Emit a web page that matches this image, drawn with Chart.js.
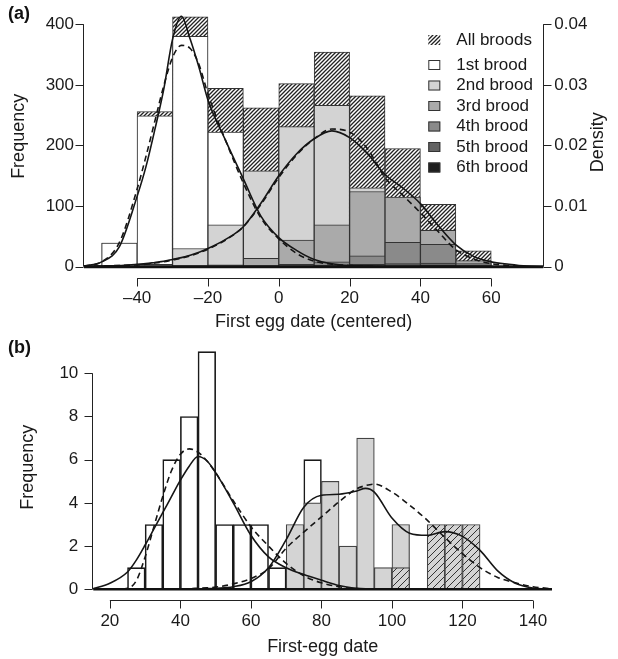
<!DOCTYPE html>
<html>
<head>
<meta charset="utf-8">
<script src="https://cdn.jsdelivr.net/npm/chart.js@4.4.1/dist/chart.umd.min.js"></script>
<style>
  html, body { margin: 0; padding: 0; background: #fff; }
  #wrap { position: relative; width: 618px; height: 659px; }
  canvas { position: absolute; left: 0; }
</style>
</head>
<body>
<div id="wrap">
  <canvas id="chartA" width="618" height="335" style="top:0"></canvas>
  <canvas id="chartB" width="618" height="324" style="top:335px"></canvas>
</div>
<script>
// ---------- panel (a): first egg date (centered), 10-day bins ----------
const binsA = [-50, -40, -30, -20, -10, 0, 10, 20, 30, 40, 50];
const allBroods = [39, 256, 412, 294, 262, 302, 354, 282, 195, 103, 26];
const brood1 = [39, 249, 380, 222, 110, 40, 10, 2, 0, 0, 0];
const brood2 = [0, 4, 30, 69, 158, 231, 266, 130, 100, 45, 8];
const brood3 = [0, 0, 2, 3, 14, 44, 69, 124, 115, 60, 10];
const brood4 = [0, 0, 0, 0, 2, 4, 8, 18, 40, 37, 5];
const brood5 = [0, 0, 0, 0, 0, 1, 2, 4, 5, 6, 2];
const brood6 = [0, 0, 0, 0, 0, 0, 0, 1, 1, 2, 1];

// density curves (right axis)
const densXA = [-55, -50, -45, -40, -37.5, -35, -32.5, -30, -27.5, -25, -22.5, -20, -15, -10, -5, 0,
                5, 10, 15, 20, 25, 30, 35, 40, 45, 50, 55, 60, 65, 70, 74];
const firstSolidA = [0.0001, 0.0008, 0.0033, 0.0116, 0.0165, 0.0226, 0.0292, 0.0375, 0.0413, 0.0375, 0.0328, 0.0275,
                     0.0208, 0.0145, 0.0083, 0.0048, 0.0027, 0.0012, 0.0005, 0.0002, 0.0001, 0, 0, 0, 0, 0, 0, 0, 0, 0, 0];
const firstDashA = [0.0001, 0.0008, 0.0040, 0.0128, 0.0182, 0.0240, 0.0298, 0.0345, 0.0365, 0.0360, 0.0333, 0.0285,
                    0.0208, 0.0138, 0.0080, 0.0046, 0.0022, 0.0009, 0.0004, 0.0002, 0.0001, 0, 0, 0, 0, 0, 0, 0, 0, 0, 0];
const laterSolidA = [0, 0.0001, 0.0002, 0.0004, 0.0005, 0.0007, 0.0009, 0.0012, 0.0015, 0.0019, 0.0024, 0.0030,
                     0.0045, 0.0066, 0.0105, 0.0150, 0.0186, 0.0211, 0.0224, 0.0213, 0.0187, 0.0152, 0.0130, 0.0104,
                     0.0068, 0.0036, 0.0017, 0.0008, 0.0004, 0.0001, 0];
const laterDashA = [0, 0.0001, 0.0002, 0.0003, 0.0004, 0.0006, 0.0008, 0.0011, 0.0014, 0.0018, 0.0023, 0.0029,
                    0.0044, 0.0066, 0.0103, 0.0147, 0.0184, 0.0211, 0.0227, 0.0222, 0.0195, 0.0147, 0.0118, 0.0089,
                    0.0058, 0.0028, 0.0013, 0.0005, 0.0002, 0, 0];

const xTicksA = [-40, -20, 0, 20, 40, 60];
const yTicksA = [0, 100, 200, 300, 400];
const densTicksA = [0, 0.01, 0.02, 0.03, 0.04];

// ---------- panel (b): first-egg date, 5-day bins ----------
const binsB = [25, 30, 35, 40, 45, 50, 55, 60, 65, 70, 75, 80, 85, 90, 95, 100, 105, 110, 115, 120];
const firstB = [1, 3, 6, 8, 11, 3, 3, 3, 1, 0, 6, 0, 0, 0, 0, 0, 0, 0, 0, 0];
const secondB = [0, 0, 0, 0, 0, 0, 0, 0, 0, 3, 4, 5, 2, 7, 1, 3, 0, 0, 0, 0];
const thirdB = [0, 0, 0, 0, 0, 0, 0, 0, 0, 0, 0, 0, 0, 0, 0, 1, 0, 3, 3, 3];

const densXB = [15, 20, 25, 27.5, 30, 32.5, 35, 37.5, 40, 42.5, 45, 47.5, 50, 55, 60, 65, 70, 75, 80, 85,
                90, 92.5, 95, 100, 105, 110, 115, 120, 125, 130, 135, 140, 145];
const firstSolidB = [0.02, 0.28, 0.8, 1.35, 2.05, 2.8, 3.55, 4.3, 5.05, 5.7, 6.15, 5.95, 5.4, 4.0, 2.5, 1.5, 1.0,
                     0.68, 0.42, 0.18, 0.05, 0.02, 0.01, 0, 0, 0, 0, 0, 0, 0, 0, 0, 0];
const firstDashB = [0, 0, 0.05, 0.4, 1.5, 2.9, 4.3, 5.5, 6.25, 6.5, 6.35, 5.95, 5.4, 4.1, 2.9, 2.0, 1.2,
                    0.62, 0.3, 0.12, 0.03, 0.01, 0, 0, 0, 0, 0, 0, 0, 0, 0, 0, 0];
const laterSolidB = [0, 0, 0, 0, 0, 0, 0, 0, 0.01, 0.01, 0.02, 0.03, 0.05, 0.12, 0.35, 1.0, 2.3,
                     3.8, 4.35, 4.4, 4.55, 4.67, 4.5, 3.3, 2.6, 2.5, 2.67, 2.45, 1.8, 0.85, 0.28, 0.06, 0.01];
const laterDashB = [0, 0, 0, 0, 0, 0, 0, 0.01, 0.02, 0.03, 0.05, 0.07, 0.1, 0.25, 0.5, 0.95, 1.9,
                    2.65, 3.35, 4.05, 4.65, 4.8, 4.87, 4.5, 3.9, 3.2, 2.4, 1.65, 1.0, 0.55, 0.3, 0.12, 0.03];

const xTicksB = [20, 40, 60, 80, 100, 120, 140];
const yTicksB = [0, 2, 4, 6, 8, 10];

// ---------- helpers ----------
const FONT = "'Liberation Sans', Arial, Helvetica, sans-serif";
Chart.defaults.font.family = FONT;
Chart.defaults.color = '#1a1a1a';

const bars = (edges, width, counts) => counts.map((c, i) => ({ x: edges[i] + width / 2, y: c > 0 ? c : null }));
const curve = (xs, ys) => xs.map((x, i) => ({ x, y: ys[i] }));
const minus = v => (v < 0 ? '\u2013' + Math.abs(v) : String(v));

function hatch(size, bg, color, lw) {
  const c = document.createElement('canvas');
  c.width = size; c.height = size;
  const g = c.getContext('2d');
  if (bg) { g.fillStyle = bg; g.fillRect(0, 0, size, size); }
  g.strokeStyle = color; g.lineWidth = lw;
  g.beginPath();
  g.moveTo(0, size); g.lineTo(size, 0);
  g.moveTo(-size / 2, size / 2); g.lineTo(size / 2, -size / 2);
  g.moveTo(size / 2, size * 1.5); g.lineTo(size * 1.5, size / 2);
  g.stroke();
  return g.createPattern(c, 'repeat');
}

function barSet(label, data, fill, border, bw, order) {
  return { type: 'bar', label, data, backgroundColor: fill, borderColor: border, borderWidth: bw,
           grouped: false, barPercentage: 1, categoryPercentage: 1, order };
}
function lineSet(label, data, dashed, yAxisID) {
  return { type: 'line', label, data, yAxisID, borderColor: '#151515', borderWidth: 1.6,
           borderDash: dashed ? [6, 4] : [], pointRadius: 0, fill: false,
           tension: 0.4, cubicInterpolationMode: 'monotone', order: 0 };
}
const fixTicks = vals => s => { s.ticks = vals.map(v => ({ value: v })); };

// R-style axes: offset x axis, y axis lines spanning first..last tick, thick zero line
function rAxes(cfg) {
  return {
    id: 'rAxes' + cfg.tag,
    afterDatasetsDraw(chart) {
      const { ctx, chartArea: ca, scales } = chart;
      const y0 = scales.y.getPixelForValue(0);
      ctx.save();
      ctx.strokeStyle = '#111';
      ctx.lineWidth = cfg.baseWidth;
      ctx.beginPath(); ctx.moveTo(ca.left, y0); ctx.lineTo(ca.right, y0); ctx.stroke();
      ctx.restore();
    },
    afterDraw(chart) {
      const { ctx, chartArea: ca, scales } = chart;
      ctx.save();
      ctx.strokeStyle = '#222';
      ctx.lineWidth = 1;
      ctx.beginPath();
      const xs = scales.x, yb = Math.round(ca.bottom + cfg.xGap) + 0.5, xt = cfg.xTicks;
      ctx.moveTo(xs.getPixelForValue(xt[0]), yb);
      ctx.lineTo(xs.getPixelForValue(xt[xt.length - 1]), yb);
      xt.forEach(v => {
        const p = Math.round(xs.getPixelForValue(v)) + 0.5;
        ctx.moveTo(p, yb); ctx.lineTo(p, yb + cfg.tick);
      });
      cfg.yAxes.forEach(a => {
        const s = scales[a.id], left = a.id === 'y';
        const x = Math.round(left ? ca.left : ca.right) + (left ? -0.5 : 0.5);
        ctx.moveTo(x, s.getPixelForValue(a.ticks[0]));
        ctx.lineTo(x, s.getPixelForValue(a.ticks[a.ticks.length - 1]));
        a.ticks.forEach(v => {
          const p = Math.round(s.getPixelForValue(v)) + 0.5;
          ctx.moveTo(x, p); ctx.lineTo(left ? x - cfg.tick : x + cfg.tick, p);
        });
      });
      ctx.stroke();
      ctx.fillStyle = '#111';
      ctx.font = `bold 18px ${FONT}`;
      ctx.textBaseline = 'middle';
      ctx.fillText('(' + cfg.tag + ')', 8, cfg.tagY);
      if (cfg.rightTitle) {
        ctx.font = `18px ${FONT}`;
        ctx.textAlign = 'center';
        ctx.translate(598, (ca.top + ca.bottom) / 2 + 6);
        ctx.rotate(-Math.PI / 2);
        ctx.fillStyle = '#1a1a1a';
        ctx.fillText(cfg.rightTitle, 0, 0);
      }
      ctx.restore();
    }
  };
}

// legend inside panel (a)
const legendA = {
  id: 'legendA',
  afterDraw(chart) {
    const { ctx, chartArea: ca } = chart;
    const items = chart.data.datasets.filter(d => d.type === 'bar');
    let y = ca.top + 34;
    ctx.save();
    ctx.font = `17px ${FONT}`;
    ctx.textBaseline = 'middle';
    items.forEach((d, i) => {
      const sx = ca.right - 115;
      ctx.fillStyle = d.backgroundColor;
      ctx.fillRect(sx, y - 5, 12, 10);
      if (i > 0) {
        ctx.strokeStyle = '#333'; ctx.lineWidth = 1;
        ctx.strokeRect(sx + 0.5, y - 4.5, 11, 9);
      }
      ctx.fillStyle = '#1a1a1a';
      ctx.fillText(d.label, ca.right - 87, y);
      y += i === 0 ? 25 : 20.5;
    });
    ctx.restore();
  }
};

const tickFont = { size: 17, family: FONT };
const titleFont = { size: 18, family: FONT };
const noGrid = { display: false, drawTicks: false };

// ---------- chart (a) ----------
const hatchA = hatch(4, '#ffffff', '#222', 1.3);
new Chart(document.getElementById('chartA'), {
  type: 'bar',
  plugins: [rAxes({ tag: 'a', tagY: 14, xGap: 11, tick: 8, baseWidth: 3, xTicks: xTicksA,
                    yAxes: [{ id: 'y', ticks: yTicksA }, { id: 'y2', ticks: densTicksA }], rightTitle: 'Density' }),
            legendA],
  data: {
    datasets: [
      barSet('All broods', bars(binsA, 10, allBroods), hatchA, '#333', 1, 7),
      barSet('1st brood', bars(binsA, 10, brood1), '#ffffff', '#333', 1, 6),
      barSet('2nd brood', bars(binsA, 10, brood2), '#d3d3d3', '#333', 1, 5),
      barSet('3rd brood', bars(binsA, 10, brood3), '#aaaaaa', '#333', 1, 4),
      barSet('4th brood', bars(binsA, 10, brood4), '#8a8a8a', '#333', 1, 3),
      barSet('5th brood', bars(binsA, 10, brood5), '#636363', '#333', 1, 2),
      barSet('6th brood', bars(binsA, 10, brood6), '#1e1e1e', '#222', 1, 1),
      lineSet('1st brood density', curve(densXA, firstSolidA), false, 'y2'),
      lineSet('1st brood density (alt)', curve(densXA, firstDashA), true, 'y2'),
      lineSet('later broods density', curve(densXA, laterSolidA), false, 'y2'),
      lineSet('later broods density (alt)', curve(densXA, laterDashA), true, 'y2')
    ]
  },
  options: {
    responsive: false,
    animation: false,
    layout: { padding: { top: 6, left: 0, right: 0, bottom: 0 } },
    plugins: { legend: { display: false }, tooltip: { enabled: false } },
    scales: {
      x: {
        type: 'linear', min: -55, max: 74.7, offset: false,
        grid: noGrid, border: { display: false },
        afterBuildTicks: fixTicks(xTicksA),
        ticks: { padding: 21, font: tickFont, maxRotation: 0, autoSkip: false, callback: v => minus(v) },
        title: { display: true, text: 'First egg date (centered)', font: titleFont, padding: { top: 0, bottom: 2.5 } },
        afterFit: s => { s.height = 68.3; s.paddingLeft = 0; s.paddingRight = 0; }
      },
      y: {
        position: 'left', min: 0, max: 430,
        grid: noGrid, border: { display: false },
        afterBuildTicks: fixTicks(yTicksA),
        ticks: { padding: 10, font: tickFont },
        title: { display: true, text: 'Frequency', font: titleFont, padding: { top: 8, bottom: 0 } },
        afterFit: s => { s.width = 84; s.paddingTop = 0; s.paddingBottom = 0; }
      },
      y2: {
        position: 'right', min: 0, max: 0.043,
        grid: noGrid, border: { display: false },
        afterBuildTicks: fixTicks(densTicksA),
        ticks: { padding: 11, font: tickFont, callback: v => String(v) },
        afterFit: s => { s.width = 74.7; s.paddingTop = 0; s.paddingBottom = 0; }
      }
    }
  }
});

// ---------- chart (b) ----------
const hatchB = hatch(7, '#d4d4d4', '#333', 1);
new Chart(document.getElementById('chartB'), {
  type: 'bar',
  plugins: [rAxes({ tag: 'b', tagY: 13, xGap: 10.7, tick: 8, baseWidth: 2.5, xTicks: xTicksB,
                    yAxes: [{ id: 'y', ticks: yTicksB }] })],
  data: {
    datasets: [
      barSet('1st brood', bars(binsB, 5, firstB), '#ffffff', '#1a1a1a', 1.6, 3),
      barSet('2nd brood', bars(binsB, 5, secondB), '#d4d4d4', '#444', 1.2, 2),
      barSet('3rd brood', bars(binsB, 5, thirdB), hatchB, '#444', 1.2, 1),
      lineSet('1st brood density', curve(densXB, firstSolidB), false, 'y'),
      lineSet('1st brood density (alt)', curve(densXB, firstDashB), true, 'y'),
      lineSet('later broods density', curve(densXB, laterSolidB), false, 'y'),
      lineSet('later broods density (alt)', curve(densXB, laterDashB), true, 'y')
    ]
  },
  options: {
    responsive: false,
    animation: false,
    layout: { padding: { top: 10.2, left: 0, right: 66, bottom: 0 } },
    plugins: { legend: { display: false }, tooltip: { enabled: false } },
    scales: {
      x: {
        type: 'linear', min: 15.3, max: 145.4, offset: false,
        grid: noGrid, border: { display: false },
        afterBuildTicks: fixTicks(xTicksB),
        ticks: { padding: 22.2, font: tickFont, maxRotation: 0, autoSkip: false },
        title: { display: true, text: 'First-egg date', font: titleFont, padding: { top: 0, bottom: 1.5 } },
        afterFit: s => { s.height = 69.7; s.paddingLeft = 0; s.paddingRight = 0; }
      },
      y: {
        position: 'left', min: 0, max: 11.3,
        grid: noGrid, border: { display: false },
        afterBuildTicks: fixTicks(yTicksB),
        ticks: { padding: 15, font: tickFont },
        title: { display: true, text: 'Frequency', font: titleFont, padding: { top: 17, bottom: 0 } },
        afterFit: s => { s.width = 93.3; s.paddingTop = 0; s.paddingBottom = 0; }
      }
    }
  }
});
</script>
</body>
</html>
